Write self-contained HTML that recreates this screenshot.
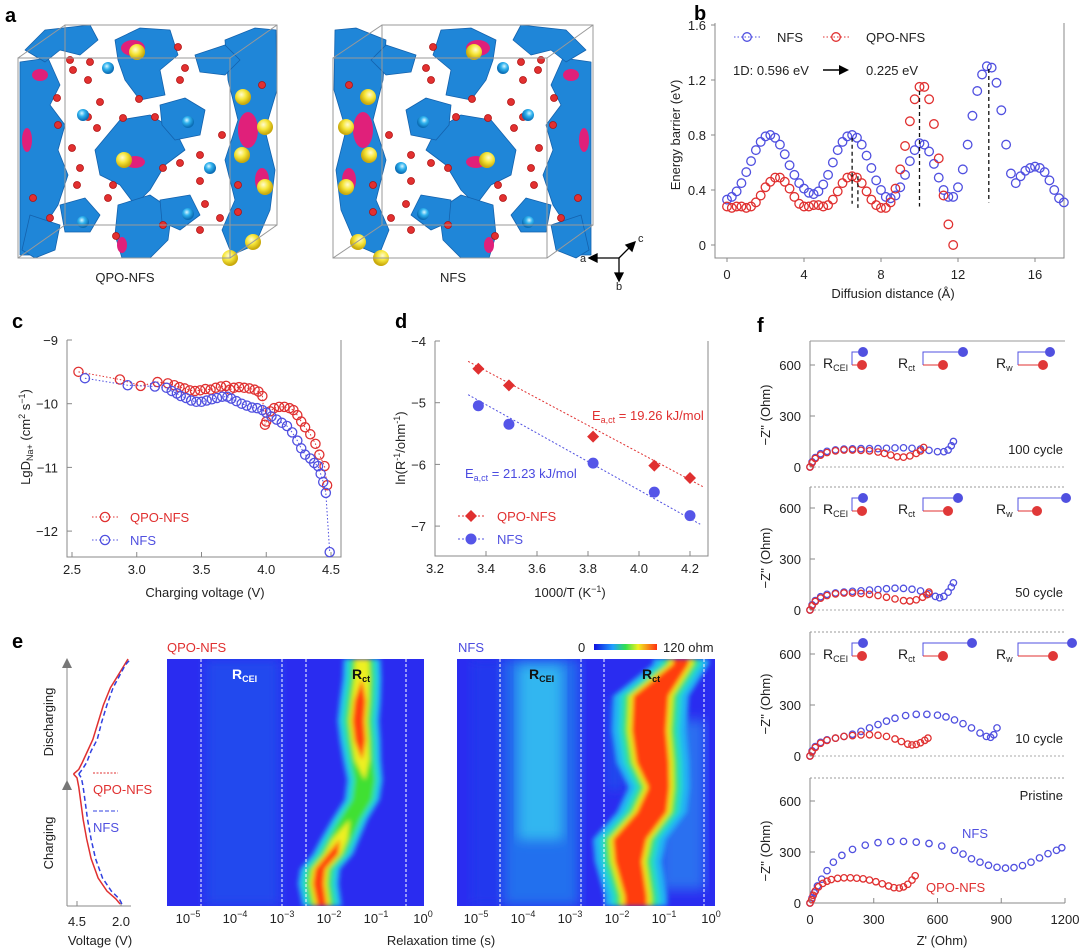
<!DOCTYPE html>
<html><head><meta charset="utf-8">
<style>
body{margin:0;background:#fff}
svg{display:block;font-family:"Liberation Sans",Arial,sans-serif;font-size:13px;fill:#222}
</style></head>
<body>
<svg id="fig" width="1080" height="949" viewBox="0 0 1080 949">
<defs>
<filter id="blur3" x="-20%" y="-20%" width="140%" height="140%"><feGaussianBlur stdDeviation="2.4"/></filter>
<filter id="blur8"><feGaussianBlur stdDeviation="6"/></filter>
<clipPath id="clipQ"><rect x="167" y="659" width="257" height="247"/></clipPath>
<clipPath id="clipN"><rect x="457" y="659" width="258" height="247"/></clipPath>
<radialGradient id="gBall" cx="0.4" cy="0.35" r="0.6"><stop offset="0" stop-color="#d8f6ff"/><stop offset="0.45" stop-color="#2fb2ee"/><stop offset="1" stop-color="#0b6db5"/></radialGradient>
<radialGradient id="gYel" cx="0.4" cy="0.35" r="0.6"><stop offset="0" stop-color="#fffbd0"/><stop offset="0.5" stop-color="#f6e63a"/><stop offset="1" stop-color="#c9a90c"/></radialGradient>
<linearGradient id="gBar" x1="0" x2="1"><stop offset="0" stop-color="#1010e0"/><stop offset="0.3" stop-color="#20a0ff"/><stop offset="0.5" stop-color="#30e050"/><stop offset="0.7" stop-color="#f0f020"/><stop offset="1" stop-color="#ff3010"/></linearGradient>
<g id="structContent">
  <g fill="#1f86d8" stroke="#1462ad" stroke-width="0.8" stroke-linejoin="round">
    <polygon points="20,62 48,58 60,85 50,105 65,125 58,150 68,175 58,205 45,225 30,255 20,255"/>
    <polygon points="25,50 45,30 90,25 98,40 80,55 60,50 45,62"/>
    <polygon points="115,40 140,28 170,30 178,55 160,70 165,95 140,100 125,80 118,60"/>
    <polygon points="95,150 120,120 150,115 175,130 185,150 165,165 150,190 135,205 120,185 100,175"/>
    <polygon points="118,205 150,195 172,210 168,240 150,258 122,258 115,235"/>
    <polygon points="160,105 185,98 205,110 200,135 175,140 162,125"/>
    <polygon points="60,205 85,198 100,215 90,232 65,232"/>
    <polygon points="30,215 60,225 55,250 35,258 22,250"/>
    <polygon points="225,40 255,28 276,30 277,90 265,130 275,170 270,210 255,245 232,255 222,230 235,200 225,160 238,120 228,80"/>
    <polygon points="195,55 225,45 240,60 225,75 200,72"/>
    <polygon points="160,200 190,195 200,215 180,230 162,222"/>
  </g>
  <g fill="#e0207a">
    <ellipse cx="133" cy="48" rx="12" ry="8"/><ellipse cx="135" cy="162" rx="10" ry="6"/><ellipse cx="248" cy="130" rx="10" ry="18"/>
    <ellipse cx="262" cy="180" rx="7" ry="12"/><ellipse cx="27" cy="140" rx="5" ry="12"/><ellipse cx="40" cy="75" rx="8" ry="6"/><ellipse cx="122" cy="245" rx="5" ry="8"/>
  </g>
  <g fill="#e23030" stroke="#b01010" stroke-width="0.8">
    <circle cx="90" cy="62" r="3.5"/><circle cx="73" cy="70" r="3.5"/><circle cx="88" cy="80" r="3.5"/><circle cx="57" cy="98" r="3.5"/><circle cx="100" cy="102" r="3.5"/>
    <circle cx="88" cy="117" r="3.5"/><circle cx="123" cy="118" r="3.5"/><circle cx="58" cy="125" r="3.5"/><circle cx="97" cy="128" r="3.5"/><circle cx="139" cy="99" r="3.5"/>
    <circle cx="155" cy="117" r="3.5"/><circle cx="180" cy="80" r="3.5"/><circle cx="72" cy="148" r="3.5"/><circle cx="80" cy="168" r="3.5"/><circle cx="77" cy="185" r="3.5"/>
    <circle cx="33" cy="198" r="3.5"/><circle cx="50" cy="218" r="3.5"/><circle cx="113" cy="185" r="3.5"/><circle cx="163" cy="168" r="3.5"/><circle cx="180" cy="163" r="3.5"/>
    <circle cx="200" cy="155" r="3.5"/><circle cx="222" cy="135" r="3.5"/><circle cx="200" cy="181" r="3.5"/><circle cx="205" cy="204" r="3.5"/><circle cx="238" cy="212" r="3.5"/>
    <circle cx="238" cy="185" r="3.5"/><circle cx="262" cy="85" r="3.5"/><circle cx="185" cy="68" r="3.5"/><circle cx="178" cy="47" r="3.5"/><circle cx="163" cy="225" r="3.5"/>
    <circle cx="108" cy="198" r="3.5"/><circle cx="200" cy="230" r="3.5"/><circle cx="220" cy="218" r="3.5"/><circle cx="70" cy="60" r="3.5"/><circle cx="116" cy="236" r="3.5"/>
  </g>
  <g fill="url(#gBall)"><circle cx="108" cy="68" r="6"/><circle cx="83" cy="115" r="6"/><circle cx="188" cy="122" r="6"/><circle cx="210" cy="168" r="6"/><circle cx="188" cy="214" r="6"/><circle cx="83" cy="222" r="6"/></g>
  <g fill="url(#gYel)"><circle cx="137" cy="52" r="8"/><circle cx="243" cy="97" r="8"/><circle cx="265" cy="127" r="8"/><circle cx="242" cy="155" r="8"/><circle cx="265" cy="187" r="8"/><circle cx="253" cy="242" r="8"/><circle cx="230" cy="258" r="8"/><circle cx="124" cy="160" r="8"/></g>
</g>
</defs>

<g>
  <text x="5" y="22" font-size="20" font-weight="bold" fill="#000">a</text>
  <g>
    <use href="#structContent"/>
    <g fill="none" stroke="#999" stroke-width="1">
      <rect x="18" y="58" width="212" height="200"/><rect x="65" y="25" width="212" height="200"/>
      <line x1="18" y1="58" x2="65" y2="25"/><line x1="230" y1="58" x2="277" y2="25"/><line x1="230" y1="258" x2="277" y2="225"/><line x1="18" y1="258" x2="65" y2="225"/>
    </g>
  </g>
  <text x="125" y="282" text-anchor="middle">QPO-NFS</text>
  <g>
    <use href="#structContent" transform="translate(611,0) scale(-1,1)"/>
    <g fill="none" stroke="#999" stroke-width="1">
      <rect x="333" y="58" width="214" height="200"/><rect x="382" y="25" width="211" height="200"/>
      <line x1="333" y1="58" x2="382" y2="25"/><line x1="547" y1="58" x2="593" y2="25"/><line x1="547" y1="258" x2="593" y2="225"/><line x1="333" y1="258" x2="382" y2="225"/>
    </g>
  </g>
  <text x="453" y="282" text-anchor="middle">NFS</text>
  <g stroke="#000" stroke-width="1.3" fill="#000">
    <line x1="619" y1="258" x2="594" y2="258"/><polygon points="589,258 597,254 597,262"/>
    <line x1="619" y1="258" x2="619" y2="276"/><polygon points="619,281 615,273 623,273"/>
    <line x1="619" y1="258" x2="631" y2="246"/><polygon points="635,242 626,245 632,251"/>
  </g>
  <text x="580" y="262" font-size="11">a</text>
  <text x="616" y="290" font-size="11">b</text>
  <text x="638" y="242" font-size="11">c</text>
</g>

<text x="694" y="20" font-size="20" font-weight="bold" fill="#000">b</text>
<text x="12" y="328" font-size="20" font-weight="bold" fill="#000">c</text>
<text x="395" y="328" font-size="20" font-weight="bold" fill="#000">d</text>
<text x="12" y="648" font-size="20" font-weight="bold" fill="#000">e</text>
<text x="757" y="332" font-size="20" font-weight="bold" fill="#000">f</text>

<text transform="translate(680,135) rotate(-90)" text-anchor="middle">Energy barrier (eV)</text>
<text x="893" y="298" text-anchor="middle">Diffusion distance (Å)</text>
<text x="733" y="75">1D:  0.596 eV</text>
<g><line x1="823" y1="70" x2="840" y2="70" stroke="#000" stroke-width="1.5"/><polygon points="849,70 839,65 839,75" fill="#000"/></g>
<text x="866" y="75">0.225 eV</text>

<text transform="translate(30,437) rotate(-90)" text-anchor="middle">LgD<tspan font-size="9" dy="3">Na+</tspan><tspan dy="-3"> (cm</tspan><tspan font-size="9" dy="-5">2</tspan><tspan dy="5"> s</tspan><tspan font-size="9" dy="-5">−1</tspan><tspan dy="5">)</tspan></text>
<text x="205" y="597" text-anchor="middle">Charging voltage (V)</text>

<text transform="translate(405,448) rotate(-90)" text-anchor="middle">ln(R<tspan font-size="9" dy="-5">-1</tspan><tspan dy="5">/ohm</tspan><tspan font-size="9" dy="-5">-1</tspan><tspan dy="5">)</tspan></text>
<text x="570" y="597" text-anchor="middle">1000/T (K<tspan font-size="9" dy="-5">−1</tspan><tspan dy="5">)</tspan></text>
<text x="592" y="420" fill="#e03030">E<tspan font-size="9" dy="3">a,ct</tspan><tspan dy="-3"> = 19.26 kJ/mol</tspan></text>
<text x="465" y="478" fill="#4a4ae0">E<tspan font-size="9" dy="3">a,ct</tspan><tspan dy="-3"> = 21.23 kJ/mol</tspan></text>

<text transform="translate(53,843) rotate(-90)" text-anchor="middle">Charging</text>
<text transform="translate(53,722) rotate(-90)" text-anchor="middle">Discharging</text>
<text x="100" y="945" text-anchor="middle">Voltage (V)</text>
<text x="167" y="652" fill="#e03030">QPO-NFS</text>
<text x="458" y="652" fill="#4a4ae0">NFS</text>
<text x="441" y="945" text-anchor="middle">Relaxation time (s)</text>
<text x="578" y="652">0</text>
<rect x="594" y="644" width="63" height="6" fill="url(#gBar)"/>
<text x="663" y="652">120 ohm</text>

<text x="942" y="945" text-anchor="middle">Z' (Ohm)</text>

<g id="charts"></g>
</svg>

<script>
const NS='http://www.w3.org/2000/svg';
const root=document.getElementById('charts');
function mk(tag,a,p){const e=document.createElementNS(NS,tag);for(const k in a)e.setAttribute(k,a[k]);(p||root).appendChild(e);return e;}
function tx(s,x,y,a,p){const e=mk('text',Object.assign({x:x,y:y},a||{}),p);e.textContent=s;return e;}

/* ---------- Panel b data ---------- */
const bNfsE=[0.33,0.35,0.39,0.45,0.53,0.61,0.69,0.75,0.79,0.80,0.78,0.73,0.66,0.58,0.51,0.45,0.41,0.38,0.37,0.39,0.44,0.51,0.60,0.69,0.75,0.79,0.80,0.78,0.73,0.65,0.56,0.47,0.40,0.35,0.34,0.36,0.42,0.51,0.61,0.69,0.74,0.73,0.68,0.59,0.49,0.40,0.35,0.35,0.42,0.55,0.73,0.94,1.12,1.24,1.30,1.29,1.18,0.98,0.73,0.52,0.45,0.50,0.54,0.56,0.57,0.56,0.53,0.47,0.40,0.34,0.31];
const bNfsX=bNfsE.map((v,i)=>i*0.25);
const bQpoE=[0.28,0.27,0.28,0.28,0.27,0.28,0.31,0.36,0.42,0.46,0.49,0.49,0.46,0.41,0.35,0.30,0.28,0.28,0.29,0.29,0.28,0.29,0.33,0.39,0.45,0.49,0.50,0.49,0.45,0.39,0.33,0.29,0.27,0.27,0.31,0.41,0.55,0.72,0.90,1.06,1.15,1.15,1.06,0.88,0.63,0.36,0.15,0.0];
const bQpoX=bQpoE.map((v,i)=>i*0.25);
const bDropX=[6.5,6.8,10.0,13.6];
const bDropTop=[0.78,0.50,1.12,1.28];
const bDropBot=[0.30,0.27,0.28,0.31];
const bYTicks=[0,0.4,0.8,1.2,1.6];
const bXTicks=[0,4,8,12,16];
const bx=d=>727+d*19.25, by=v=>245-v*137.5;
const gb=mk('g',{});


const bAxes=mk('path',{d:'M715,23 V258 H1064 V23',fill:'none',stroke:'#888','stroke-width':1},gb);


bYTicks.forEach(v=>{mk('line',{x1:715,x2:711,y1:by(v),y2:by(v),stroke:'#888'},gb);
 const t=tx(String(v),706,by(v)+5,{'text-anchor':'end'},gb);
 
 });
bXTicks.forEach(v=>{mk('line',{x1:bx(v),x2:bx(v),y1:258,y2:262,stroke:'#888'},gb);
 const t=tx(String(v),bx(v),279,{'text-anchor':'middle'},gb);
 
 });
function series(xs,ys,fx,fy,col,r,name,p,dotted){
 const g=mk('g',{},p);
 
 
 if(dotted){mk('polyline',{points:xs.map((x,i)=>fx(x)+','+fy(ys[i])).join(' '),fill:'none',stroke:col,'stroke-width':1,'stroke-dasharray':'1.5,2'},g);}
 xs.forEach((x,i)=>{const c=mk('circle',{cx:fx(x),cy:fy(ys[i]),r:r,fill:'none',stroke:col,'stroke-width':1.3},g);
  
  });
 return g;}
series(bNfsX,bNfsE,bx,by,'#5050e0',4.3,'b-nfs-series',gb);
series(bQpoX,bQpoE,bx,by,'#e03030',4.3,'b-qpo-series',gb);
bDropX.forEach((d,i)=>{const l=mk('line',{x1:bx(d),x2:bx(d),y1:by(bDropTop[i]),y2:by(bDropBot[i]),stroke:'#111','stroke-width':1.3,'stroke-dasharray':'4,3'},gb);
 
 });
function legendCirc(x,y,col,label,p,name,tcol,r){
 const g=mk('g',{},p);
 
 
 mk('line',{x1:x,x2:x+26,y1:y,y2:y,stroke:col,'stroke-dasharray':'1.5,2'},g);
 mk('circle',{cx:x+13,cy:y,r:r||4.3,fill:'none',stroke:col,'stroke-width':1.3},g);
 tx(label,x+(tcol?38:43),y+5,{fill:tcol||'#222'},g);}
legendCirc(734,37,'#5050e0','NFS',gb,'b-legend-nfs');
legendCirc(823,37,'#e03030','QPO-NFS',gb,'b-legend-qpo');

/* ---------- Panel c data ---------- */
const cQpoV=[2.55,2.87,3.03,3.16,3.24,3.29,3.33,3.37,3.41,3.45,3.49,3.53,3.57,3.61,3.65,3.69,3.72,3.75,3.79,3.83,3.87,3.91,3.94,3.97,3.99,4.0,4.03,4.06,4.1,4.14,4.18,4.21,4.24,4.27,4.3,4.34,4.38,4.41,4.45,4.47];
const cQpoD=[-9.5,-9.62,-9.72,-9.66,-9.68,-9.71,-9.74,-9.76,-9.79,-9.8,-9.79,-9.77,-9.78,-9.75,-9.73,-9.72,-9.78,-9.75,-9.74,-9.75,-9.76,-9.78,-9.81,-9.88,-10.33,-10.28,-10.12,-10.07,-10.05,-10.05,-10.07,-10.1,-10.18,-10.28,-10.37,-10.48,-10.63,-10.8,-10.98,-11.28];
const cNfsV=[2.6,2.93,3.14,3.23,3.27,3.31,3.34,3.38,3.42,3.46,3.5,3.54,3.58,3.62,3.66,3.7,3.73,3.77,3.81,3.85,3.89,3.93,3.97,4.0,4.04,4.08,4.12,4.16,4.2,4.24,4.27,4.3,4.34,4.37,4.4,4.42,4.44,4.46,4.49];
const cNfsD=[-9.6,-9.71,-9.73,-9.75,-9.8,-9.84,-9.88,-9.91,-9.95,-9.97,-9.97,-9.95,-9.93,-9.91,-9.89,-9.89,-9.92,-9.96,-10.0,-10.03,-10.06,-10.07,-10.1,-10.14,-10.2,-10.25,-10.3,-10.35,-10.45,-10.58,-10.7,-10.8,-10.86,-10.93,-10.98,-11.1,-11.23,-11.4,-12.33];
const cYTicks=[-9,-10,-11,-12];
const cXTicks=[2.5,3.0,3.5,4.0,4.5];
const cxs=v=>72+(v-2.5)*129.5, cys=l=>340+(-9-l)*63.7;
const gc=mk('g',{});


const cAxes=mk('path',{d:'M67,340 V557 H341 V340',fill:'none',stroke:'#888'},gc);


cYTicks.forEach(v=>{mk('line',{x1:67,x2:72,y1:cys(v),y2:cys(v),stroke:'#888'},gc);
 const t=tx('−'+Math.abs(v),58,cys(v)+5,{'text-anchor':'end'},gc);
 
 });
cXTicks.forEach(v=>{mk('line',{x1:cxs(v),x2:cxs(v),y1:557,y2:552,stroke:'#888'},gc);
 const t=tx(v.toFixed(1),cxs(v),574,{'text-anchor':'middle'},gc);
 
 });
series(cQpoV,cQpoD,cxs,cys,'#e03030',4.6,'c-qpo-series',gc,true);
series(cNfsV,cNfsD,cxs,cys,'#5050e0',4.6,'c-nfs-series',gc,true);
legendCirc(92,517,'#e03030','QPO-NFS',gc,'c-legend-qpo','#e03030',4.6);
legendCirc(92,540,'#5050e0','NFS',gc,'c-legend-nfs','#5050e0',4.6);

/* ---------- Panel d data ---------- */
const dT=[3.37,3.49,3.82,4.06,4.2];
const dQpo=[-4.45,-4.72,-5.55,-6.02,-6.22];
const dNfs=[-5.05,-5.35,-5.98,-6.45,-6.83];
const dQpoFit=[[3.33,-4.33],[4.25,-6.36]];
const dNfsFit=[[3.33,-4.87],[4.24,-6.97]];
const dXTicks=[3.2,3.4,3.6,3.8,4.0,4.2];
const dYTicks=[-4,-5,-6,-7];
const dxs=t=>435+(t-3.2)*255, dys=l=>341+(-4-l)*61.7;
const gd=mk('g',{});


const dAxes=mk('path',{d:'M435,341 V556 H708 V341',fill:'none',stroke:'#888'},gd);


dYTicks.forEach(v=>{mk('line',{x1:435,x2:440,y1:dys(v),y2:dys(v),stroke:'#888'},gd);
 const t=tx('−'+Math.abs(v),426,dys(v)+5,{'text-anchor':'end'},gd);
 
 });
dXTicks.forEach(v=>{mk('line',{x1:dxs(v),x2:dxs(v),y1:556,y2:551,stroke:'#888'},gd);
 const t=tx(v.toFixed(1),dxs(v),573,{'text-anchor':'middle'},gd);
 
 });
const fq=mk('line',{x1:dxs(dQpoFit[0][0]),y1:dys(dQpoFit[0][1]),x2:dxs(dQpoFit[1][0]),y2:dys(dQpoFit[1][1]),stroke:'#e03030','stroke-dasharray':'2,2'},gd);


const fn=mk('line',{x1:dxs(dNfsFit[0][0]),y1:dys(dNfsFit[0][1]),x2:dxs(dNfsFit[1][0]),y2:dys(dNfsFit[1][1]),stroke:'#5050e0','stroke-dasharray':'2,2'},gd);


function diamond(x,y,s,col,p){return mk('polygon',{points:`${x},${y-s} ${x+s},${y} ${x},${y+s} ${x-s},${y}`,fill:col},p);}
dT.forEach((t,i)=>{const m=diamond(dxs(t),dys(dQpo[i]),6,'#e03030',gd);
 
 
 const c=mk('circle',{cx:dxs(t),cy:dys(dNfs[i]),r:5.5,fill:'#5555e8'},gd);
 
 });
const dl1=mk('g',{},gd);


mk('line',{x1:458,x2:484,y1:516,y2:516,stroke:'#e03030','stroke-dasharray':'2,2'},dl1);diamond(471,516,6,'#e03030',dl1);
tx('QPO-NFS',497,521,{fill:'#e03030'},dl1);
const dl2=mk('g',{},gd);


mk('line',{x1:458,x2:484,y1:539,y2:539,stroke:'#5050e0','stroke-dasharray':'2,2'},dl2);mk('circle',{cx:471,cy:539,r:5.5,fill:'#5555e8'},dl2);
tx('NFS',497,544,{fill:'#5050e0'},dl2);

/* ---------- Panel e: voltage profile ---------- */
const eChgFrac=[0,0.04,0.1,0.2,0.35,0.5,0.65,0.8,0.9,0.97,1.0];
const eChgQpo=[2.05,2.3,2.8,3.3,3.7,3.95,4.15,4.3,4.4,4.5,4.7];
const eChgNfs=[1.95,2.1,2.55,3.05,3.45,3.7,3.9,4.05,4.15,4.25,4.4];
const eDisFrac=[0,0.04,0.1,0.2,0.3,0.45,0.6,0.75,0.85,0.95,1.0];
const eDisQpo=[4.7,4.4,4.2,3.9,3.6,3.3,3.0,2.6,2.2,1.8,1.6];
const eDisNfs=[4.4,4.2,3.95,3.7,3.35,3.1,2.8,2.45,2.1,1.75,1.45];
const eVTicks=[4.5,2.0];
const ex=v=>77+(4.5-v)*17.6, eyC=f=>904-f*130, eyD=f=>774-f*115;
const ge=mk('g',{});


mk('path',{d:'M67,906 V664 M67,906 H131',fill:'none',stroke:'#888'},ge);
mk('polygon',{points:'67,658 62,668 72,668',fill:'#777'},ge);
mk('polygon',{points:'67,780 62,790 72,790',fill:'#777'},ge);
eVTicks.forEach(v=>{mk('line',{x1:ex(v),x2:ex(v),y1:906,y2:901,stroke:'#888'},ge);
 const t=tx(v.toFixed(1),ex(v),926,{'text-anchor':'middle'},ge);
 
 });
function vcurve(fr,vs,fy,col,dash,name){
 const l=mk('polyline',{points:fr.map((f,i)=>ex(vs[i])+','+fy(f)).join(' '),fill:'none',stroke:col,'stroke-width':1.5,'stroke-dasharray':dash},ge);
 
 }
vcurve(eChgFrac,eChgQpo,eyC,'#e03030','none','e-qpo-charge-curve');
vcurve(eDisFrac,eDisQpo,eyD,'#e03030','none','e-qpo-discharge-curve');
vcurve(eChgFrac,eChgNfs,eyC,'#3040e0','5,3','e-nfs-charge-curve');
vcurve(eDisFrac,eDisNfs,eyD,'#3040e0','5,3','e-nfs-discharge-curve');
const el1=mk('g',{},ge);


mk('line',{x1:93,x2:118,y1:773,y2:773,stroke:'#e03030','stroke-dasharray':'2,1.5'},el1);tx('QPO-NFS',93,794,{fill:'#e03030'},el1);
const el2=mk('g',{},ge);


mk('line',{x1:93,x2:118,y1:811,y2:811,stroke:'#3040e0','stroke-dasharray':'4,2'},el2);tx('NFS',93,832,{fill:'#5050e0'},el2);

/* ---------- Panel e: heatmaps ---------- */
const qpoState=[0,0.08,0.17,0.25,0.33,0.41,0.49,0.57,0.65,0.73,0.79,0.85,0.91,1.0];
const qpoLogTau=[-1.34,-1.34,-1.38,-1.42,-1.38,-1.34,-1.28,-1.34,-1.6,-1.81,-1.96,-2.23,-2.27,-2.19];
const qpoIntensity=[0.6,0.75,0.95,1,0.92,0.68,0.5,0.45,0.5,0.75,0.9,0.85,0.92,0.8];
const nfsState=[0,0.02,0.15,0.29,0.42,0.52,0.62,0.73,0.82,0.96,1.0];
const nfsLogTau=[-0.68,-0.68,-1.32,-1.36,-1.28,-1.15,-1.3,-1.77,-1.8,-1.64,-1.64];
const nfsWidth=[0.17,0.17,0.38,0.37,0.35,0.23,0.32,0.36,0.29,0.24,0.24];
const qpoTicks=[-5,-4,-3,-2,-1,0];
const qx=l=>190+(l+5)*47, nx=l=>478+(l+5)*47;
const hmTop=659, hmH=247, hy=s=>hmTop+s*hmH;
const layerCols=['#24b0f4','#28dcc8','#40e030','#eef020','#ff3c10'];
const layerThr=[0,0,0.3,0.55,0.8];
function drawRidge(p,state,centers,halfFn,intens,fx,adds){
 layerCols.forEach((col,k)=>{
  const L=[],R=[];
  state.forEach((s,i)=>{const I=intens[i];let h=0;
   if(I>=layerThr[k]) h=halfFn(i)+adds[k];
   const c=fx(centers[i]);L.push((c-h)+','+hy(s));R.unshift((c+h)+','+hy(s));});
  mk('polygon',{points:L.concat(R).join(' '),fill:col},p);
 });}
function heatFrame(name){
 const g=mk('g',{});
 
 
 return g;}
const hq=heatFrame('e-qpo-heatmap');
const hqc=mk('g',{'clip-path':'url(#clipQ)'},hq);
mk('rect',{x:167,y:659,width:257,height:247,fill:'#2a2cf0'},hqc);
mk('rect',{x:205,y:659,width:75,height:247,fill:'#2048ee',filter:'url(#blur8)'},hqc);
const rq=mk('g',{filter:'url(#blur3)'},hqc);
drawRidge(rq,qpoState,qpoLogTau,i=>6*qpoIntensity[i],qpoIntensity,qx,[15,11,7,3,0]);
const hn=heatFrame('e-nfs-heatmap');
const hnc=mk('g',{'clip-path':'url(#clipN)'},hn);
mk('rect',{x:457,y:659,width:258,height:247,fill:'#2a2cf0'},hnc);
mk('rect',{x:470,y:659,width:35,height:247,fill:'#2238ee',filter:'url(#blur8)'},hnc);
mk('rect',{x:503,y:659,width:76,height:247,fill:'#2270ee',filter:'url(#blur8)'},hnc);
mk('rect',{x:518,y:665,width:45,height:175,fill:'#32b6f0',filter:'url(#blur8)'},hnc);
mk('rect',{x:660,y:720,width:45,height:170,fill:'#2a70f0',filter:'url(#blur8)'},hnc);
mk('rect',{x:606,y:700,width:18,height:90,fill:'#2448ee',filter:'url(#blur8)'},hnc);
const rn=mk('g',{filter:'url(#blur3)'},hnc);
drawRidge(rn,nfsState,nfsLogTau,i=>nfsWidth[i]*47,nfsState.map(()=>1),nx,[20,13,8,4,0]);
[[hq,[201,282,306,406]],[hn,[500,581,604,704]]].forEach(([g,xs])=>{
 xs.forEach(x=>{const l=mk('line',{x1:x,x2:x,y1:659,y2:906,stroke:'#fff','stroke-width':1,'stroke-dasharray':'3,2'},g);
  
  });});
function rlabel(x,y,main,sub,col,p,name){const t=mk('text',{x:x,y:y,fill:col,'font-weight':'bold','font-size':14},p);
 
 
 t.textContent=main;const s=mk('tspan',{'font-size':9,dy:3},t);s.textContent=sub;}
rlabel(232,679,'R','CEI','#fff',hq,'e-qpo-rcei-label');
rlabel(352,679,'R','ct','#111',hq,'e-qpo-rct-label');
rlabel(529,679,'R','CEI','#111',hn,'e-nfs-rcei-label');
rlabel(642,679,'R','ct','#111',hn,'e-nfs-rct-label');
function logLabel(x,p,v){const t=mk('text',{x:x-6,y:923,'text-anchor':'middle'},p);
 
 
 t.textContent='10';const s=mk('tspan',{'font-size':9,dy:-6},t);s.textContent=v===0?'0':'−'+Math.abs(v);}
qpoTicks.forEach(v=>{logLabel(qx(v)+4,hq,v);logLabel(nx(v)+4,hn,v);});

/* ---------- Panel f ---------- */
const fZero=[467,610,756,903];
const fNames=['100 cycle','50 cycle','10 cycle','Pristine'];
const fNfsRe=[
 [0,10,25,50,80,120,160,200,240,280,320,360,400,440,480,520,560,600,630,650,665,675],
 [0,10,25,50,80,120,160,200,240,280,320,360,400,440,480,520,560,590,610,630,650,665,675],
 [0,10,25,50,80,120,160,200,240,280,320,360,400,450,500,550,600,640,680,720,760,800,830,850,865,880],
 [0,10,20,35,55,80,110,150,200,260,320,380,440,500,560,620,680,720,760,800,840,880,920,960,1000,1040,1080,1120,1160,1185]];
const fNfsIm=[
 [0,30,55,78,92,100,105,107,108,108,108,110,112,113,110,105,98,90,90,100,125,150],
 [0,30,55,78,92,100,105,110,113,117,120,125,128,127,122,112,95,80,72,80,105,135,160],
 [0,30,55,80,95,105,115,128,145,165,185,205,222,238,245,245,240,230,212,190,165,135,115,110,125,165],
 [0,30,60,100,140,190,240,280,315,340,355,362,362,358,350,335,310,288,260,240,222,210,205,208,220,240,265,290,310,325]];
const fQpoRe=[
 [0,10,25,50,80,120,160,200,240,280,320,350,380,410,440,470,500,520,535],
 [0,10,25,50,80,120,160,200,240,280,320,360,400,440,470,500,530,550,560],
 [0,10,25,50,80,120,160,200,240,280,320,360,400,430,460,480,500,520,540,555],
 [0,8,15,25,40,60,80,100,130,160,190,220,250,280,310,340,370,395,420,440,460,480,495]];
const fQpoIm=[
 [0,25,50,70,85,95,100,100,98,95,88,80,70,60,58,65,80,95,115],
 [0,25,50,70,85,95,100,100,97,92,85,75,65,55,53,60,75,90,105],
 [0,25,50,75,92,105,115,120,124,125,122,115,100,85,70,65,68,78,92,105],
 [0,20,45,70,95,115,128,138,145,148,148,146,142,135,125,113,100,90,88,95,110,135,160]];
const fXTicks=[0,300,600,900,1200];
const fYTicks=[0,300,600];
const fxs=z=>810+z*0.2125;
const gf=mk('g',{});


const fTops=[341,487,632,778];
const chipAlt=[[[852,863,862],[923,963,943],[1018,1050,1043]],[[852,863,862],[923,958,948],[1018,1066,1037]],[[852,863,862],[923,972,943],[1018,1072,1053]]];
fZero.forEach((z0,p)=>{
 const fy=v=>z0-v*(102/600);
 const g=mk('g',{},gf);
 
 
 mk('line',{x1:810,x2:810,y1:fTops[p],y2:z0,stroke:'#888'},g);
 mk('line',{x1:810,x2:1065,y1:fTops[p],y2:fTops[p],stroke:'#999','stroke-dasharray':p===0?'none':'2,2'},g);
 mk('line',{x1:810,x2:1065,y1:z0,y2:z0,stroke:p===3?'#888':'#aaa','stroke-dasharray':p===3?'none':'2,2'},g);
 fYTicks.forEach(v=>{mk('line',{x1:810,x2:815,y1:fy(v),y2:fy(v),stroke:'#888'},g);
  const t=tx(String(v),801,fy(v)+5,{'text-anchor':'end'},g);
  
  });
 const yt=mk('text',{transform:`translate(770,${z0-52}) rotate(-90)`,'text-anchor':'middle'},g);
 
 
 yt.textContent="−Z'' (Ohm)";
 const cl=tx(fNames[p],1063,p===3?fTops[p]+22:z0-13,{'text-anchor':'end'},g);
 
 
 series(fNfsRe[p],fNfsIm[p],fxs,fy,'#5050e0',3.2,'f-nfs-series',g);
 series(fQpoRe[p],fQpoIm[p],fxs,fy,'#e03030',3.2,'f-qpo-series',g);
 if(p<3){
  const cy0=fTops[p]+11, cy1=cy0+13;
  [['CEI',823],['ct',898],['w',996]].forEach((lab,k)=>{
   const c=chipAlt[p][k];
   const cg=mk('g',{},g);
   
   
   const t=mk('text',{x:lab[1],y:cy1+3,'font-size':14},cg);t.textContent='R';const s=mk('tspan',{'font-size':9,dy:3},t);s.textContent=lab[0];
   mk('path',{d:`M${c[1]},${cy0} H${c[0]} V${cy1}`,fill:'none',stroke:'#5050e0','stroke-width':1},cg);
   mk('path',{d:`M${c[0]},${cy1} H${c[2]}`,fill:'none',stroke:'#e03030','stroke-width':1},cg);
   mk('circle',{cx:c[1],cy:cy0,r:5,fill:'#5050e0'},cg);
   mk('circle',{cx:c[2],cy:cy1,r:5,fill:'#e03838'},cg);
  });
 }
 if(p===3){
  fXTicks.forEach(v=>{mk('line',{x1:fxs(v),x2:fxs(v),y1:903,y2:898,stroke:'#888'},g);
   const t=tx(String(v),fxs(v),924,{'text-anchor':'middle'},g);
   
   });
  const a=tx('NFS',975,838,{'text-anchor':'middle',fill:'#5050e0'},g);
  
  
  const b=tx('QPO-NFS',926,892,{fill:'#e03030'},g);
  
  
 }
});
</script>
</body></html>
